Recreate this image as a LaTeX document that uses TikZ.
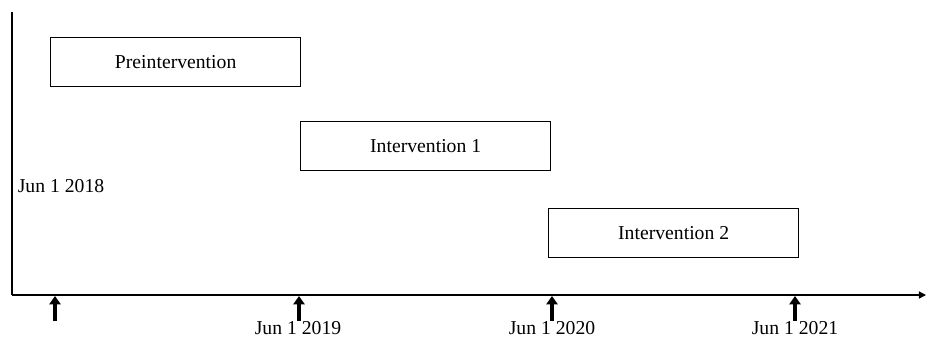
\documentclass[tikz,border=0pt]{standalone}
\usepackage{fontspec}
\setmainfont{Liberation Serif}
\usepackage{tikz}
\usetikzlibrary{arrows.meta, positioning}

\begin{document}
\begin{tikzpicture}[x=0.025cm, y=-0.025cm, font=\fontsize{14}{16}\selectfont,
    period/.style={draw, rectangle, line width=0.9pt, minimum width=6.25cm, minimum height=1.225cm, inner sep=0pt, anchor=north west},
    datelabel/.style={inner sep=1pt},
    tick/.style={-{Triangle[length=6pt, width=8pt]}, line width=2.8pt}]

    \useasboundingbox (0,0) rectangle (926,338);

    % Axes
    \coordinate (origin) at (12,295);
    \coordinate (ytop) at (12,12);
    \coordinate (xend) at (926,295);
    \draw[line width=0.9pt] (ytop) -- (origin);
    \draw[line width=0.9pt, -{Triangle[length=5pt, width=5pt]}] (origin) -- (xend);

    % Period boxes
    \node[period] (pre) at (50,37) {Preintervention};
    \node[period] (int1) at (300,121) {Intervention 1};
    \node[period] (int2) at (548,208) {Intervention 2};

    % Start date on the left
    \node[datelabel] (start) at (61,186) {Jun 1 2018};

    % Tick arrows below the axis
    \foreach \name/\px in {t0/55, t1/299, t2/552, t3/795} {
        \coordinate (\name) at (\px,321);
        \coordinate (\name top) at (\px,296);
        \draw[tick] (\name) -- (\name top);
    }

    % Dates under the ticks
    \node[datelabel] (d1) at (298,328) {Jun 1 2019};
    \node[datelabel] (d2) at (552,328) {Jun 1 2020};
    \node[datelabel] (d3) at (795,328) {Jun 1 2021};

\end{tikzpicture}
\end{document}
